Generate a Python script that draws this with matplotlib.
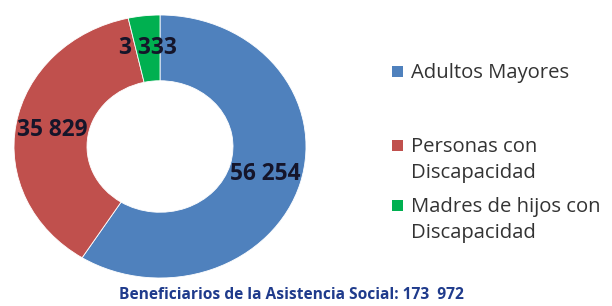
import matplotlib
matplotlib.use("Agg")
import matplotlib.pyplot as plt
from matplotlib.patches import Rectangle

categories = ["Adultos Mayores", "Personas con\nDiscapacidad", "Madres de hijos con\nDiscapacidad"]
values = [56254, 35829, 3333]
colors = ["#4F81BD", "#C0504D", "#00B050"]
title = "Beneficiarios de la Asistencia Social: 173  972"

plt.rcParams['font.family'] = ['Open Sans', 'DejaVu Sans']

fig = plt.figure(figsize=(6.12, 3.06), dpi=100)
ax = fig.add_axes([14/612, 28/306, 292/612, 263/306])

def fmt(pct, vals=values):
    total = sum(vals)
    v = int(round(pct * total / 100.0))
    return f"{v:,}".replace(",", " ")

wedges, texts, autotexts = ax.pie(
    values, colors=colors, startangle=90, counterclock=False,
    radius=1.0, wedgeprops=dict(width=0.5, edgecolor="white", linewidth=0.6),
    autopct=fmt, pctdistance=0.75,
    textprops=dict(fontsize=16.3, fontweight="bold", color="#15152a"))
ax.set_aspect('auto')
ax.set_xlim(-1, 1)
ax.set_ylim(-1, 1)
ax.axis('off')

# Legend (manual placement)
leg_base = [78, 152, 212]
line_gap = 26
for cat, col, y in zip(categories, colors, leg_base):
    fig.patches.append(Rectangle((392/612, 1 - (y - 1)/306), 11/612, 11/306,
                                 transform=fig.transFigure, facecolor=col,
                                 edgecolor="none"))
    for i, line in enumerate(cat.split("\n")):
        fig.text(411/612, 1 - (y + i * line_gap)/306, line, fontsize=14.6,
                 color="#333333", va="baseline", ha="left")

fig.text(291/612, 1 - 295/306, title, fontsize=11.2, fontweight="bold",
         color="#1F3B8C", ha="center", va="center")

fig.savefig("out.png", dpi=100)
